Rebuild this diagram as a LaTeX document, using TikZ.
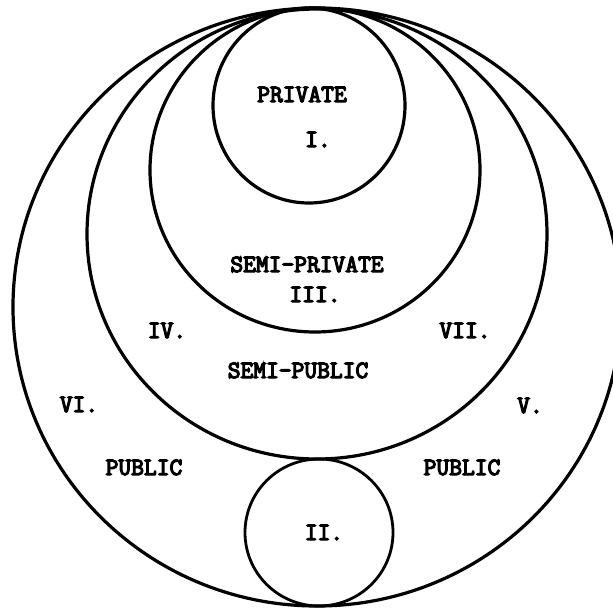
\documentclass[tikz,border=0pt]{standalone}
\usepackage{fontspec}
\newfontfamily\twfont[FakeBold=5]{Latin Modern Mono}
\begin{document}
\begin{tikzpicture}[x=1pt,y=-1pt,
  ring/.style={line width=3.2pt},
  smallring/.style={line width=2.8pt},
  lbl/.style={font=\twfont\fontsize{24.8}{28}\selectfont, anchor=base, inner sep=0pt}]
\useasboundingbox (0,0) rectangle (613,608);
\begin{scope}
\clip (0,0) rectangle (613,608);
\draw[ring] (317,307) ellipse [x radius=304pt, y radius=299pt];
\end{scope}
\draw[ring] (317,234) ellipse [x radius=230pt, y radius=225pt];
\draw[ring] (315,170) ellipse [x radius=165pt, y radius=162pt];
\draw[ring] (309,105.5) ellipse [x radius=96pt, y radius=97.5pt];
\draw[smallring] (319,532.5) ellipse [x radius=74pt, y radius=73.5pt];
\node[lbl] (priv) at (302,102) {PRIVATE};
\node[lbl] (one) at (318,147) {I.};
\node[lbl] (semipriv) at (307,272) {SEMI-PRIVATE};
\node[lbl] (three) at (315,302) {III.};
\node[lbl] (four) at (167,338) {IV.};
\node[lbl] (seven) at (465,338) {VII.};
\node[lbl] (semipub) at (298,378) {SEMI-PUBLIC};
\node[lbl] (six) at (79,412) {VI.};
\node[lbl] (five) at (530,413) {V.};
\node[lbl] (publ) at (144,475) {PUBLIC};
\node[lbl] (pubr) at (462,475) {PUBLIC};
\node[lbl] (two) at (324,540) {II.};
\end{tikzpicture}
\end{document}
